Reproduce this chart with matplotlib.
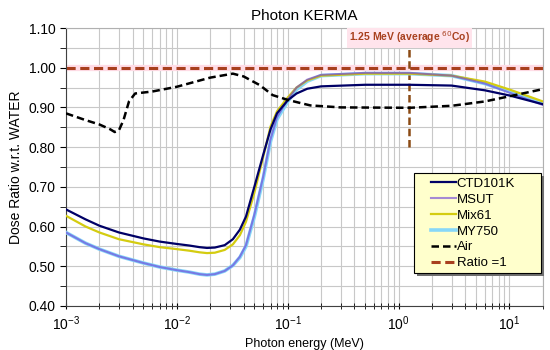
import numpy as np
import matplotlib
matplotlib.use('Agg')
import matplotlib.pyplot as plt
from matplotlib.patches import Rectangle
from matplotlib.ticker import LogLocator, MultipleLocator

plt.rcParams['font.family'] = ['Liberation Sans', 'DejaVu Sans']

# photon energy (MeV)
energy = [1e-3, 1.5e-3, 2e-3, 3e-3, 5e-3, 7e-3, 1e-2, 1.3e-2, 1.6e-2, 1.87e-2,
          2.2e-2, 2.7e-2, 3.2e-2, 3.7e-2, 4.2e-2, 5e-2, 6e-2, 7e-2, 8e-2, 1e-1,
          1.2e-1, 1.5e-1, 2e-1, 5e-1, 1.25, 3.0, 6.0, 10.0, 20.0]

ctd101k = [0.643, 0.618, 0.602, 0.585, 0.570, 0.562, 0.556, 0.552, 0.548, 0.546,
           0.547, 0.553, 0.568, 0.592, 0.625, 0.700, 0.780, 0.845, 0.885, 0.918,
           0.935, 0.947, 0.953, 0.957, 0.957, 0.955, 0.943, 0.930, 0.908]
mix61 = [0.627, 0.600, 0.585, 0.568, 0.555, 0.548, 0.543, 0.539, 0.535, 0.533,
         0.534, 0.541, 0.555, 0.578, 0.612, 0.685, 0.775, 0.852, 0.890, 0.925,
         0.950, 0.968, 0.980, 0.985, 0.985, 0.980, 0.965, 0.945, 0.915]
my750 = [0.585, 0.558, 0.543, 0.525, 0.508, 0.498, 0.490, 0.485, 0.480, 0.478,
         0.480, 0.488, 0.502, 0.522, 0.550, 0.625, 0.720, 0.815, 0.870, 0.915,
         0.945, 0.966, 0.980, 0.985, 0.985, 0.980, 0.960, 0.940, 0.910]
msut = [0.585, 0.558, 0.543, 0.525, 0.508, 0.498, 0.490, 0.485, 0.480, 0.478,
        0.480, 0.488, 0.502, 0.524, 0.553, 0.630, 0.725, 0.820, 0.875, 0.920,
        0.950, 0.970, 0.982, 0.987, 0.987, 0.980, 0.960, 0.937, 0.906]

air_energy = [1e-3, 1.5e-3, 2e-3, 2.5e-3, 2.75e-3, 3e-3, 3.3e-3, 3.7e-3, 4.2e-3,
              6e-3, 1e-2, 2e-2, 3.2e-2, 4e-2, 5.6e-2, 7.3e-2, 1e-1, 1.3e-1, 1.6e-1,
              3e-1, 1.25, 3.0, 6.0, 10.0, 20.0]
air = [0.885, 0.868, 0.857, 0.845, 0.838, 0.842, 0.868, 0.915, 0.935,
       0.940, 0.952, 0.975, 0.985, 0.978, 0.956, 0.931, 0.919, 0.911, 0.905,
       0.900, 0.899, 0.904, 0.915, 0.928, 0.946]

co60_energy = 1.25

fig, ax = plt.subplots(figsize=(5.5, 3.5), dpi=100)
fig.subplots_adjust(left=0.12, right=0.987, top=0.92, bottom=0.126)

ax.set_xscale('log')

ax.plot(energy, ctd101k, color='#000066', lw=1.6, label='CTD101K', zorder=5)
ax.plot(energy, my750, color='#88D8F8', lw=2.6, label='MY750', zorder=3)
ax.plot(energy, mix61, color='#D4CC10', lw=1.6, label='Mix61', zorder=4)
ax.plot(energy, msut, color='#6A3AD8', lw=1.5, alpha=0.6, label='MSUT', zorder=4)
ax.plot(air_energy, air, color='black', lw=1.8, ls=(0, (3, 1.6)), label='Air', zorder=6)
ax.axhline(1.0, color='#FFDCE6', lw=4.5, zorder=1)
ax.axhline(1.0, color='#A8401E', lw=2.2, ls=(0, (3, 1.5)), label='Ratio =1', zorder=2)
ax.plot([co60_energy, co60_energy], [0.80, 1.05], color='#8B4A14', lw=1.8,
        ls=(0, (3, 1.5)), zorder=2)
ax.text(co60_energy, 1.076, '1.25 MeV (average $^{60}$Co)', ha='center', va='center',
        fontsize=7.5, fontweight='bold', color='#A8401E',
        bbox=dict(facecolor='#FFE4EC', edgecolor='none', pad=1.5))

ax.set_xlim(1e-3, 20)
ax.set_ylim(0.40, 1.10)
ax.yaxis.set_major_locator(MultipleLocator(0.1))
ax.yaxis.set_minor_locator(MultipleLocator(0.05))
ax.set_yticklabels([f'{v:.2f}' for v in ax.get_yticks()])
ax.xaxis.set_major_locator(LogLocator(base=10, numticks=10))
ax.xaxis.set_minor_locator(LogLocator(base=10, subs=np.arange(2, 10), numticks=10))

ax.grid(True, which='both', color='#C8C8C8', lw=0.8)
ax.set_axisbelow(True)
ax.tick_params(axis='both', labelsize=10)
ax.tick_params(axis='x', which='both', direction='inout', length=5)
ax.tick_params(axis='y', which='both', direction='out', length=4)
for s in ['top', 'right']:
    ax.spines[s].set_color('#B0B0B0')
for s in ['left', 'bottom']:
    ax.spines[s].set_color('#404040')

ax.set_title('Photon KERMA', fontsize=11, pad=6)
ax.set_xlabel('Photon energy (MeV)', fontsize=9)
ax.set_ylabel('Dose Ratio w.r.t. WATER', fontsize=10)

# legend box drawn by hand (wide left padding like the original)
ax.add_patch(Rectangle((0.737, 0.108), 0.266, 0.36, transform=ax.transAxes,
                       facecolor='#707070', edgecolor='none', zorder=9, clip_on=False))
ax.add_patch(Rectangle((0.730, 0.119), 0.266, 0.36, transform=ax.transAxes,
                       facecolor='#FFFFCC', edgecolor='black', lw=0.8, zorder=9,
                       clip_on=False))

handles, labels = ax.get_legend_handles_labels()
order = ['CTD101K', 'MSUT', 'Mix61', 'MY750', 'Air', 'Ratio =1']
h = [handles[labels.index(o)] for o in order]
leg = ax.legend(h, order, loc='upper left', bbox_to_anchor=(0.765, 0.462),
                fontsize=9.5, handlelength=1.9, handletextpad=0.05,
                labelspacing=0.28, borderpad=0, borderaxespad=0, frameon=False)
leg.set_zorder(10)

plt.savefig('out.png', dpi=100)
